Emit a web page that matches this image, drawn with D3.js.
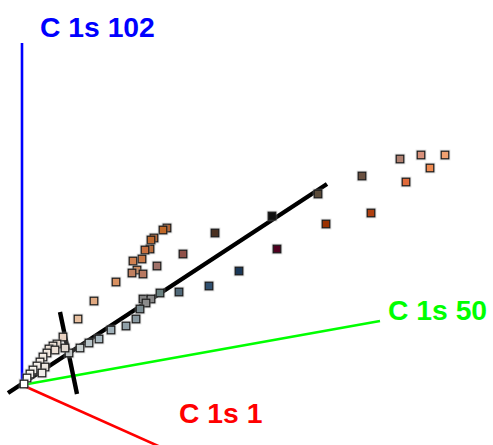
<!DOCTYPE html>
<html>
<head>
<meta charset="utf-8">
<script src="https://cdn.jsdelivr.net/npm/d3@7"></script>
<style>
  html, body { margin: 0; padding: 0; background: #fff; }
  svg { display: block; }
  text { font-family: "Liberation Sans", Arial, sans-serif; font-weight: bold; }
</style>
</head>
<body>
<svg id="chart" width="493" height="445"></svg>
<script>
// Projected view coordinates (u = right, v = up) of the score plot.
const axisNames  = ["C 1s 102", "C 1s 50", "C 1s 1"];
const axisColors = ["#0000ff", "#00ff00", "#ff0000"];
// axis end points in projected view units
const axisEndU = [0.0, 35.8, 14.3];
const axisEndV = [34.2, 6.4, -6.4];
// label anchors in projected view units
const labelU = [1.8, 36.6, 15.7];
const labelV = [34.8, 6.5, -3.8];

// principal direction lines (start / end)
const pcStartU = [-1.4, 3.8];
const pcStartV = [-0.8, 7.3];
const pcEndU   = [30.5, 5.5];
const pcEndV   = [20.1, -0.9];

// sample scores
const scoreU = [37.8, 39.9, 42.3, 40.8, 38.4, 34.0, 34.9, 29.6, 25.0, 30.4,
                19.3, 25.5, 16.1, 21.7, 18.7, 15.7, 13.8, 13.5, 14.5, 14.1,
                13.2, 12.9, 12.8, 12.3, 12.0, 11.1, 11.5, 11.0, 12.1, 9.4,
                12.1, 12.9, 12.4, 11.8, 11.4, 10.4, 8.9, 7.7, 6.7, 5.8,
                7.2, 5.6, 4.1, 4.7, 3.5, 3.1, 2.7, 3.3, 2.5, 2.1,
                1.8, 1.5, 1.1, 0.8, 0.5, 4.3, 2.3, 2.0, 0.2];
const scoreV = [22.6, 23.0, 23.0, 21.7, 20.3, 20.9, 17.2, 19.1, 16.9, 16.1,
                15.2, 13.6, 13.1, 11.4, 9.9, 9.3, 9.2, 11.9, 15.7, 15.5,
                14.7, 14.5, 13.6, 13.5, 12.6, 12.4, 11.5, 11.2, 11.1, 10.3,
                8.6, 8.6, 8.2, 7.6, 6.6, 5.9, 5.5, 4.6, 4.2, 3.7,
                8.4, 6.6, 4.8, 3.2, 4.1, 3.9, 3.6, 3.5, 3.2, 2.8,
                2.3, 1.9, 1.5, 1.1, 0.7, 3.7, 1.8, 1.2, 0.1];
const scoreColor = ["#b08070", "#d8907a", "#f0a070", "#f08a50", "#e06a3a", "#6a5040", "#b04010", "#5a4a38", "#101010", "#9a3000",
                    "#4a3020", "#500020", "#905048", "#1a3858", "#305070", "#506878", "#6a8080", "#a07068", "#b06030", "#c06828",
                    "#b86028", "#c06a30", "#b86a38", "#c87040", "#c87848", "#d08050", "#d08858", "#c08060", "#b87860", "#d89060",
                    "#808080", "#888888", "#8a8a8a", "#7a8a90", "#8898a0", "#90a0a8", "#a0b0b8", "#a8b8c0", "#b8c4c8", "#c8d0d0",
                    "#e0a880", "#e8c0a0", "#e8d0c0", "#c0c4c4", "#efe0d4", "#f0e4d8", "#f2e6da", "#ece0d6", "#f4eae0", "#f5ede4",
                    "#f6efe8", "#f8f2ec", "#faf6f0", "#fcf8f4", "#fefcfa", "#e0d8d0", "#ece6e0", "#f0ece8", "#ffffff"];

const W = 493, H = 445;
const x = d3.scaleLinear().domain([0, 47.1]).range([22, 493]);
const y = d3.scaleLinear().domain([0, 38.5]).range([385, 0]);

const svg = d3.select("#chart");

// coordinate axes
const axesG = svg.append("g");
axisNames.forEach((name, i) => {
  axesG.append("line")
    .attr("x1", x(0)).attr("y1", y(0))
    .attr("x2", x(axisEndU[i])).attr("y2", y(axisEndV[i]))
    .attr("stroke", axisColors[i])
    .attr("stroke-width", 2.6);
  axesG.append("text")
    .attr("x", x(labelU[i])).attr("y", y(labelV[i]))
    .attr("fill", axisColors[i])
    .attr("font-size", 28.3)
    .text(name);
});

// principal direction lines
const pcG = svg.append("g");
pcStartU.forEach((u, i) => {
  pcG.append("line")
    .attr("x1", x(u)).attr("y1", y(pcStartV[i]))
    .attr("x2", x(pcEndU[i])).attr("y2", y(pcEndV[i]))
    .attr("stroke", "#000")
    .attr("stroke-width", 4.4)
    .attr("stroke-linecap", "butt");
});

// sample markers
const pts = d3.range(scoreU.length).map(i => ({u: scoreU[i], v: scoreV[i], c: scoreColor[i]}));
const s = 7.6;
const ptG = svg.append("g");
pts.forEach(d => {
  const g = ptG.append("g").attr("transform", `translate(${x(d.u)},${y(d.v)})`);
  g.append("rect")
    .attr("x", -s / 2 - 1.6).attr("y", -s / 2 - 1.6)
    .attr("width", s + 3.2).attr("height", s + 3.2)
    .attr("fill", "#aaa").attr("opacity", 0.35);
  g.append("rect")
    .attr("x", -s / 2).attr("y", -s / 2)
    .attr("width", s).attr("height", s)
    .attr("fill", d.c)
    .attr("stroke", "#1a1a1a")
    .attr("stroke-width", 1.2);
});
</script>
</body>
</html>
